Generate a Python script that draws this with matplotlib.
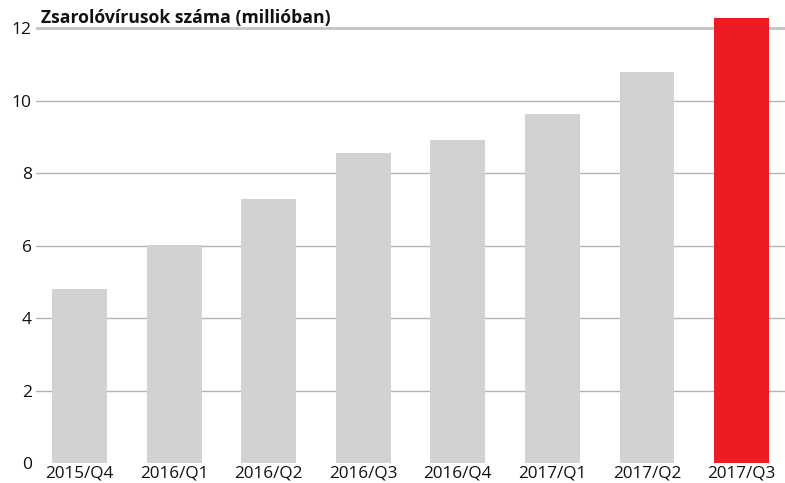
import matplotlib
matplotlib.use("Agg")
import matplotlib.pyplot as plt

categories = ["2015/Q4", "2016/Q1", "2016/Q2", "2016/Q3", "2016/Q4", "2017/Q1", "2017/Q2", "2017/Q3"]
values = [4.8, 6.01, 7.28, 8.55, 8.91, 9.63, 10.8, 12.28]
colors = ["#d1d2d4"] * 7 + ["#ed1c24"]
yticks = [0, 2, 4, 6, 8, 10, 12]
title = "Zsarolóvírusok száma (millióban)"

plt.rcParams['font.family'] = ['Open Sans', 'DejaVu Sans']

fig = plt.figure(figsize=(7.85, 4.83), dpi=100)
ax = fig.add_axes([0.0459, 0.0414, 0.9541, 0.9586])

x = range(len(categories))
ax.bar(x, values, width=0.58, color=colors, zorder=2)

for t in yticks[1:-1]:
    ax.axhline(t, color="#b4b4b4", lw=1.0, zorder=1)
ax.axhline(12, color="#c4c4c4", lw=2.0, zorder=1)

ax.set_xlim(-0.46, 7.46)
ax.set_ylim(0, 12.78)
ax.set_yticks(yticks)
ax.set_yticklabels([str(t) for t in yticks], fontsize=12.5, color="#111111")
ax.set_xticks(list(x))
ax.set_xticklabels(categories, fontsize=12.3, color="#111111")
ax.tick_params(axis="y", length=0, pad=3)
ax.tick_params(axis="x", length=0, pad=1.5)
for s in ax.spines.values():
    s.set_visible(False)

fig.text(41 / 785, 1 - 18 / 483, title, fontsize=12.7, fontweight="bold",
         ha="left", va="center", color="#111111")

fig.savefig("out.png", dpi=100)
